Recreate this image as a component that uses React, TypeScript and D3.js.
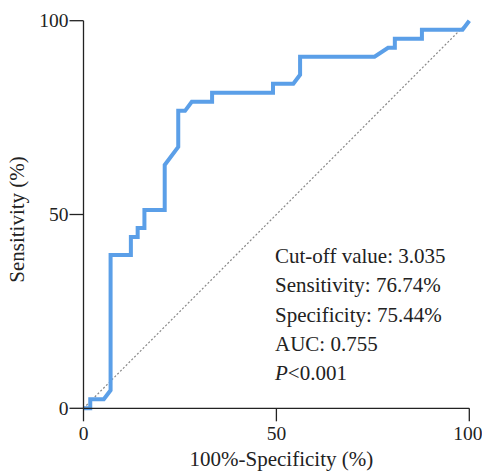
import React from "react";
import * as d3 from "d3";

// ROC points (100% - specificity, sensitivity), in %
const fpr = [
  0, 1.75, 1.75, 5.26, 7.02, 7.02, 12.28, 12.28, 14.04, 14.04, 15.79, 15.79,
  21.05, 21.05, 24.56, 24.56, 26.32, 28.07, 33.33, 33.33, 49.12, 49.12, 54.39,
  56.14, 56.14, 75.44, 78.95, 80.7, 80.7, 87.72, 87.72, 98.25, 100,
];
const tpr = [
  0, 0, 2.33, 2.33, 4.65, 39.53, 39.53, 44.19, 44.19, 46.51, 46.51, 51.16,
  51.16, 62.79, 67.44, 76.74, 76.74, 79.07, 79.07, 81.4, 81.4, 83.72, 83.72,
  86.05, 90.7, 90.7, 93.02, 93.02, 95.35, 95.35, 97.67, 97.67, 100,
];
const refLine = [0, 100];
const xTicks = [0, 50, 100];
const yTicks = [0, 50, 100];
const statLabels = [
  "Cut-off value: 3.035",
  "Sensitivity: 76.74%",
  "Specificity: 75.44%",
  "AUC: 0.755",
];
const pLabel = "<0.001";

const W = 482;
const H = 471;
const margin = { top: 20.7, right: 12.7, bottom: 62.7, left: 83.5 };

export default function App() {
  const x = d3
    .scaleLinear()
    .domain([0, 100])
    .range([margin.left, W - margin.right]);
  const y = d3
    .scaleLinear()
    .domain([0, 100])
    .range([H - margin.bottom, margin.top]);

  const pts: [number, number][] = fpr.map((v, i) => [v, tpr[i]]);
  const line = d3
    .line<[number, number]>()
    .x((d) => x(d[0]))
    .y((d) => y(d[1]));

  const font = "'Liberation Serif', 'Times New Roman', serif";
  const axisColor = "#222";

  return (
    <svg
      width={W}
      height={H}
      style={{ position: "absolute", left: 0, top: 0, background: "#fff" }}
      fontFamily={font}
    >
      {/* chance line */}
      <line
        x1={x(refLine[0])}
        y1={y(refLine[0])}
        x2={x(refLine[1])}
        y2={y(refLine[1])}
        stroke="#888"
        strokeWidth={1.2}
        strokeDasharray="2,2"
      />

      {/* ROC curve */}
      <path
        d={line(pts) || ""}
        fill="none"
        stroke="#5b9fe8"
        strokeWidth={4}
        strokeLinejoin="miter"
      />

      {/* axes */}
      <line
        x1={x(0)}
        x2={x(100)}
        y1={y(0)}
        y2={y(0)}
        stroke={axisColor}
        strokeWidth={1.3}
      />
      <line
        x1={x(0)}
        x2={x(0)}
        y1={y(0)}
        y2={y(100)}
        stroke={axisColor}
        strokeWidth={1.3}
      />

      {xTicks.map((t) => (
        <g key={"x" + t} transform={`translate(${x(t)},${y(0)})`}>
          <line y2={13} stroke={axisColor} strokeWidth={1.3} />
          <text
            y={32}
            dx={t === 100 ? -1.5 : 0}
            textAnchor="middle"
            fontSize={19.5}
            fill="#222"
          >
            {t}
          </text>
        </g>
      ))}
      {yTicks.map((t) => (
        <g key={"y" + t} transform={`translate(${x(0)},${y(t)})`}>
          <line x2={-14} stroke={axisColor} strokeWidth={1.3} />
          <text x={-15} dy="0.33em" textAnchor="end" fontSize={19.5} fill="#222">
            {t}
          </text>
        </g>
      ))}

      {/* axis titles */}
      <text
        x={(x(0) + x(100)) / 2 + 5}
        y={466}
        textAnchor="middle"
        fontSize={21}
        fill="#222"
      >
        100%-Specificity (%)
      </text>
      <text
        transform={`translate(24,${(y(0) + y(100)) / 2 + 5}) rotate(-90)`}
        textAnchor="middle"
        fontSize={21}
        fill="#222"
      >
        Sensitivity (%)
      </text>

      {/* statistics */}
      <g transform="translate(275,263)" fontSize={21} fill="#222">
        {statLabels.map((s, i) => (
          <text key={s} y={i * 29.3}>
            {s}
          </text>
        ))}
        <text y={statLabels.length * 29.3}>
          <tspan fontStyle="italic">P</tspan>
          {pLabel}
        </text>
      </g>
    </svg>
  );
}
